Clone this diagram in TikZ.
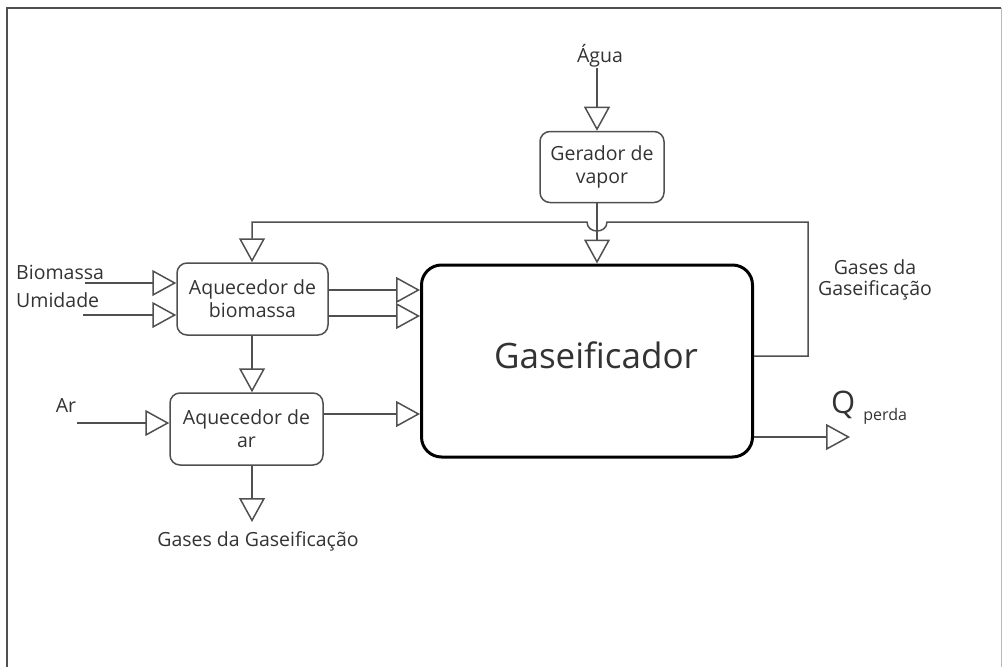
\documentclass[tikz,border=0pt]{standalone}
\usepackage{fontspec}
\setmainfont{Open Sans}
\usetikzlibrary{arrows.meta,calc}
\definecolor{textc}{HTML}{333333}
\definecolor{linec}{HTML}{505050}
\definecolor{framec}{HTML}{505050}
\begin{document}
\begin{tikzpicture}[x=1pt,y=-1pt,
  flow/.style={draw=linec, line width=1.5pt,
    -{Triangle[open, length=24pt, width=26pt]}},
  unit/.style={draw=linec, line width=1.5pt, rounded corners=10pt,
    align=center, text=textc, inner sep=0pt,
    font=\fontsize{19.5}{23}\selectfont},
  lbl/.style={text=textc, inner sep=0pt, align=center,
    font=\fontsize{19.5}{21}\selectfont},
  mainbox/.style={draw=black, line width=3pt, rounded corners=20pt, inner sep=0pt}]
\useasboundingbox (0,0) rectangle (1003,666);
% frame
\draw[framec, line width=2pt] (7,680) -- (7,8) -- (1001,8);
\draw[framec!40, line width=0.8pt] (1001,8) -- (1001,680);

% units
\node[unit, minimum width=124pt, minimum height=71pt] (gv) at (602,167) {Gerador de\\vapor};
\node[unit, minimum width=151pt, minimum height=72pt] (ab) at (252.5,299) {Aquecedor de\\biomassa};
\node[unit, minimum width=153pt, minimum height=72pt] (aa) at (246.5,429) {Aquecedor de\\ar};
\node[mainbox, minimum width=331pt, minimum height=192pt] (gas) at (587,361) {};
\node[text=textc, inner sep=0pt, font=\fontsize{35}{38}\selectfont] (gastxt) at (596,355) {Gaseificador};

% labels
\node[lbl] (agua) at (600,56) {Água};
\node[lbl, anchor=west] (bio) at (16,272) {Biomassa};
\node[lbl, anchor=west] (umi) at (16,300) {Umidade};
\node[lbl] (ar) at (66,406) {Ar};
\node[lbl] (gg) at (258,541) {Gases da Gaseificação};
\node[lbl] (gr) at (875,280) {Gases da\\Gaseificação};
\node[text=textc, inner sep=0pt, anchor=base west] (q) at (831,413)
  {{\fontsize{31}{32}\selectfont Q}\hspace{8pt}\raisebox{-7pt}{\fontsize{16}{17}\selectfont perda}};

% free ends
\coordinate (bin) at (85,283);
\coordinate (uin) at (83,315);
\coordinate (arin) at (77,423);
\coordinate (ggtop) at (252,522);
\coordinate (fr) at (808,222);
\coordinate (qend) at (850,437);

% water / steam
\draw[flow] (agua.south -| 597,0) -- (597,0 |- gv.north);
\draw[flow] (597,0 |- gv.south) -- (597,0 |- gas.north);

% biomass heater inputs
\draw[flow] (bin) -- (bin -| ab.west);
\draw[flow] (uin) -- (uin -| ab.west);
% biomass heater outputs
\draw[flow] ($(ab.east)+(0,-9)$) coordinate (o1) -- (o1 -| gas.west);
\draw[flow] ($(ab.east)+(0,17)$) coordinate (o2) -- (o2 -| gas.west);
% biomass heater -> air heater
\draw[flow] (ggtop |- ab.south) -- (ggtop |- aa.north);
% air heater
\draw[flow] (arin) -- (arin -| aa.west);
\draw[flow] ($(aa.east)+(0,-15)$) coordinate (o3) -- (o3 -| gas.west);
\draw[flow] (ggtop |- aa.south) -- (ggtop);

% recirculated gases with hop over the steam line
\draw[flow] ($(gas.east)+(0,-5)$) coordinate (f0) -| (fr)
  -- (607,222) .. controls (607,234) and (587,234) .. (587,222)
  -- (ggtop |- fr) -- (ggtop |- ab.north);

% heat loss
\draw[flow] (gas.east |- qend) -- (qend);
\end{tikzpicture}
\end{document}
